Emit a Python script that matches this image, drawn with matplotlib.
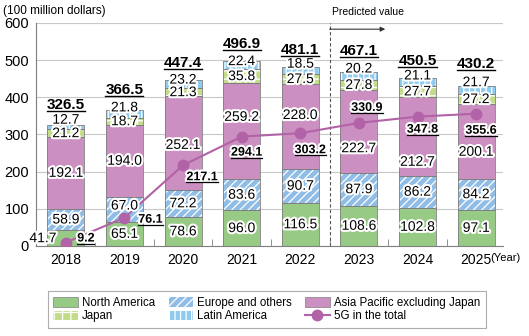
import matplotlib
matplotlib.use("Agg")
import matplotlib.pyplot as plt
import matplotlib.patheffects as pe
from matplotlib.patches import Patch
from matplotlib.lines import Line2D
import numpy as np

plt.rcParams['font.family'] = ['Liberation Sans', 'DejaVu Sans']
plt.rcParams['hatch.linewidth'] = 0.9

# Market size by region (100 million dollars)
years = ['2018', '2019', '2020', '2021', '2022', '2023', '2024', '2025']
north_america = [41.7, 65.1, 78.6, 96.0, 116.5, 108.6, 102.8, 97.1]
europe = [58.9, 67.0, 72.2, 83.6, 90.7, 87.9, 86.2, 84.2]
asia_pacific = [192.1, 194.0, 252.1, 259.2, 228.0, 222.7, 212.7, 200.1]
japan = [21.2, 18.7, 21.3, 35.8, 27.5, 27.8, 27.7, 27.2]
latin_america = [12.7, 21.8, 23.2, 22.4, 18.5, 20.2, 21.1, 21.7]
totals = [326.5, 366.5, 447.4, 496.9, 481.1, 467.1, 450.5, 430.2]
fiveg = [9.2, 76.1, 217.1, 294.1, 303.2, 330.9, 347.8, 355.6]

# label nudges (pixels for 5G values, data units for the rest)
fiveg_off = [(20, 4), (26, -2), (19, -12), (5, -16), (10, -17), (8, 15), (5, -13), (5, -17)]
asia_off = [0, 0, -5, 38, 31, -45, -69, -28]
latin_off = [13, 6, 0, 0, 9, 10, 8, 10]
total_off = [53, 52, 45, 47, 47, 58, 48, 60]

c_na = '#97ca84'
c_eu = '#8fbde6'
c_ap = '#cc8fc1'
c_jp = '#c3dc8a'
c_la = '#8ecbee'
c_5g = '#b262a6'
c_edge = '#7f7f7f'

fig = plt.figure(figsize=(5.29, 3.36), dpi=100)
ax = fig.add_axes([0.068, 0.268, 0.883, 0.664])

x = np.arange(len(years))
w = 0.63

layers = [
    (north_america, c_na, None),
    (europe, c_eu, '////'),
    (asia_pacific, c_ap, None),
    (japan, c_jp, '++'),
    (latin_america, c_la, '|||'),
]
bottom = np.zeros(len(years))
bottoms = []
for vals, col, hatch in layers:
    vals = np.array(vals)
    ax.bar(x, vals, w, bottom=bottom, color=col, edgecolor='white', lw=0,
           hatch=hatch, zorder=2)
    ax.bar(x, vals, w, bottom=bottom, fill=False, edgecolor=c_edge, lw=0.6, zorder=2)
    bottoms.append(bottom.copy())
    bottom = bottom + vals

stroke = [pe.withStroke(linewidth=3, foreground='white')]

def seg_label(xi, y, val, dx=0):
    ax.annotate(f'{val:.1f}', (xi, y), xytext=(dx, 0), textcoords='offset pixels',
                ha='center', va='center', fontsize=10, zorder=5,
                path_effects=stroke)

for i in range(len(years)):
    dx = -23 if i == 0 else 0
    seg_label(x[i], bottoms[0][i] + north_america[i] / 2, north_america[i], dx)
    dy = 10 if i == 1 else 0
    seg_label(x[i], bottoms[1][i] + europe[i] / 2 + dy, europe[i])
    seg_label(x[i], bottoms[2][i] + asia_pacific[i] / 2 + asia_off[i], asia_pacific[i])
    seg_label(x[i], bottoms[3][i] + japan[i] / 2, japan[i])
    seg_label(x[i], bottom[i] + latin_off[i], latin_america[i])

underlined = []
for i in range(len(years)):
    t = ax.text(x[i], totals[i] + total_off[i], f'{totals[i]:.1f}', ha='center',
                va='center', fontsize=11, fontweight='bold', zorder=5)
    underlined.append((t, 1.0))

# 5G share line
ax.plot(x, fiveg, color=c_5g, lw=1.5, marker='o', ms=7.5, zorder=4)
for i in range(len(years)):
    t = ax.annotate(f'{fiveg[i]:.1f}', (x[i], fiveg[i]), xytext=fiveg_off[i],
                    textcoords='offset pixels', ha='center', va='center',
                    fontsize=9, fontweight='bold', zorder=6, path_effects=stroke)
    underlined.append((t, 0.9))

ax.set_xlim(-0.51, 7.46)
ax.set_ylim(0, 600)
ax.set_yticks(range(0, 601, 100))
ax.set_xticks(x)
ax.set_xticklabels(years, fontsize=10)
ax.set_xticks(x[:-1] + 0.5, minor=True)
ax.tick_params(axis='x', which='major', length=0, pad=5)
ax.tick_params(axis='x', which='minor', length=5, direction='in', color=c_edge)
ax.tick_params(axis='y', length=0, labelsize=10.5, pad=5)
ax.yaxis.grid(True, color='#c8c8c8', lw=0.8, zorder=0)
ax.set_axisbelow(True)
for s in ['top', 'right']:
    ax.spines[s].set_visible(False)
ax.spines['left'].set_color(c_edge)
ax.spines['bottom'].set_color(c_edge)

# forecast marker
ax.plot([4.5, 4.5], [0, 600], color='#555555', lw=0.8, ls=(0, (3, 2)), clip_on=False, zorder=1)
ax.annotate('', xy=(5.45, 583), xytext=(4.5, 583),
            arrowprops=dict(arrowstyle='-|>', color='#333333', lw=0.8,
                            mutation_scale=7, shrinkA=0, shrinkB=0),
            annotation_clip=False)
ax.text(4.54, 628, 'Predicted value', fontsize=7.5, va='center', ha='left', clip_on=False)

fig.text(0.005, 0.985, '(100 million dollars)', fontsize=8.5, va='top', ha='left')
fig.text(0.927, 1 - 258 / 336, '(Year)', fontsize=8, va='center', ha='left')

handles = [
    Patch(facecolor=c_na, edgecolor=c_edge, lw=0.5),
    Patch(facecolor=c_jp, edgecolor='white', hatch='++', lw=0),
    Patch(facecolor=c_eu, edgecolor='white', hatch='////', lw=0),
    Patch(facecolor=c_la, edgecolor='white', hatch='|||', lw=0),
    Patch(facecolor=c_ap, edgecolor=c_edge, lw=0.5),
    Line2D([], [], color=c_5g, lw=1.5, marker='o', ms=7.5),
]
labels = ['North America', 'Japan', 'Europe and others', 'Latin America',
          'Asia Pacific excluding Japan', '5G in the total']
leg = fig.legend(handles, labels, ncol=3, loc='lower left',
                 bbox_to_anchor=(0.079, 0.006, 0.851, 0.152), mode='expand',
                 fontsize=8.3, frameon=True, fancybox=False, borderpad=0.5,
                 handlelength=2.1, handleheight=0.9, handletextpad=0.4,
                 columnspacing=0.6, labelspacing=0.15)
leg.get_frame().set_edgecolor('#999999')
leg.get_frame().set_linewidth(0.8)

# underline selected value labels
fig.canvas.draw()
r = fig.canvas.get_renderer()
inv = fig.transFigure.inverted()
for t, lw in underlined:
    bb = t.get_window_extent(r)
    (x0, y0), (x1, _) = inv.transform([(bb.x0, bb.y0 + 1), (bb.x1, bb.y0 + 1)])
    fig.add_artist(Line2D([x0, x1], [y0, y0], color='black', lw=lw, zorder=7))

fig.savefig('out.png', dpi=100)
